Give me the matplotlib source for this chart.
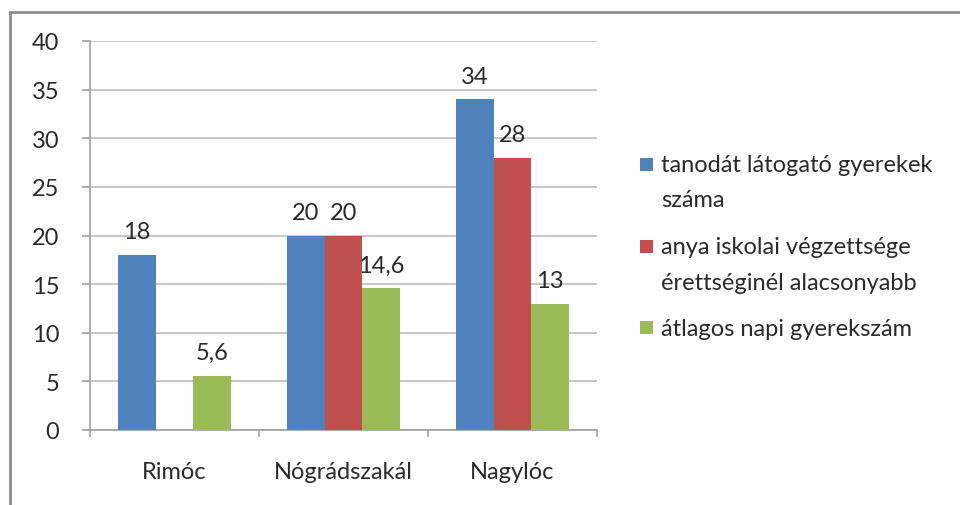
import matplotlib
matplotlib.use("Agg")
import matplotlib.pyplot as plt
import numpy as np
from matplotlib.lines import Line2D
from matplotlib.patches import Rectangle

categories = ["Rimóc", "Nógrádszakál", "Nagylóc"]
series_names = ["tanodát látogató gyerekek\nszáma",
                "anya iskolai végzettsége\nérettséginél alacsonyabb",
                "átlagos napi gyerekszám"]
s1 = [18, 20, 34]
s2 = [0, 20, 28]
s3 = [5.6, 14.6, 13]
label_texts = [["18", "20", "34"], ["", "20", "28"], ["5,6", "14,6", "13"]]
colors = ["#4F81BD", "#C0504D", "#9BBB59"]
yticks = [0, 5, 10, 15, 20, 25, 30, 35, 40]

FS = 17
TXT = '#2A2A2A'
plt.rcParams['font.family'] = ['Lato', 'DejaVu Sans']
fig = plt.figure(figsize=(9.6, 5.06), dpi=100)
W, H = 960, 506
ax = fig.add_axes([90/W, 1-431/H, (597-90)/W, (431-42)/H])

x = np.arange(len(categories))
w = 1/(3+1.5)
series = [s1, s2, s3]
for i, (vals, c) in enumerate(zip(series, colors)):
    pos = x + (i-1)*w
    bars = ax.bar(pos, vals, width=w, color=c, zorder=3)
    for b, v, t in zip(bars, vals, label_texts[i]):
        if t:
            ax.annotate(t, (b.get_x()+b.get_width()/2, v), xytext=(0, 9),
                        textcoords='offset points', ha='center', va='bottom',
                        fontsize=FS, color=TXT)

ax.set_xlim(-0.5, 2.5)
ax.set_ylim(0, 40)
ax.set_yticks(yticks)
ax.set_yticklabels([str(t) for t in yticks], fontsize=FS, color=TXT)
ax.yaxis.grid(True, color='#BEBEBE', linewidth=1.2, zorder=0)
ax.set_axisbelow(True)
ax.set_xticks(x)
ax.set_xticklabels(categories, fontsize=FS, color=TXT)
ax.set_xticks([-0.5, 0.5, 1.5, 2.5], minor=True)
ax.tick_params(axis='x', which='major', length=0, pad=22)
ax.tick_params(axis='x', which='minor', length=5, color='#A0A0A0', width=1.2)
ax.tick_params(axis='y', length=6, color='#A0A0A0', width=1.2, pad=16)
for s in ['top', 'right']:
    ax.spines[s].set_visible(False)
for s in ['left', 'bottom']:
    ax.spines[s].set_color('#A0A0A0')
    ax.spines[s].set_linewidth(1.2)

# legend drawn manually: square aligned with first line of each entry
entry_tops = [166, 248, 329]   # pixel y of first text line centre
line_gap = 35
for name, c, yc in zip(series_names, colors, entry_tops):
    fig.add_artist(Rectangle((640/W, 1-(yc+6)/H), 13/W, 13/H,
                             facecolor=c, edgecolor='none', transform=fig.transFigure))
    for k, line in enumerate(name.split("\n")):
        fig.text(661/W, 1-(yc + k*line_gap)/H, line, fontsize=FS, color=TXT,
                 ha='left', va='center')

# outer frame (top and left edges visible)
fig.add_artist(Line2D([9.5/W, 1], [1-13/H, 1-13/H], color='#8C8C8C', lw=2))
fig.add_artist(Line2D([9.5/W, 9.5/W], [0, 1-13/H], color='#8C8C8C', lw=2))

fig.savefig("out.png", dpi=100)
